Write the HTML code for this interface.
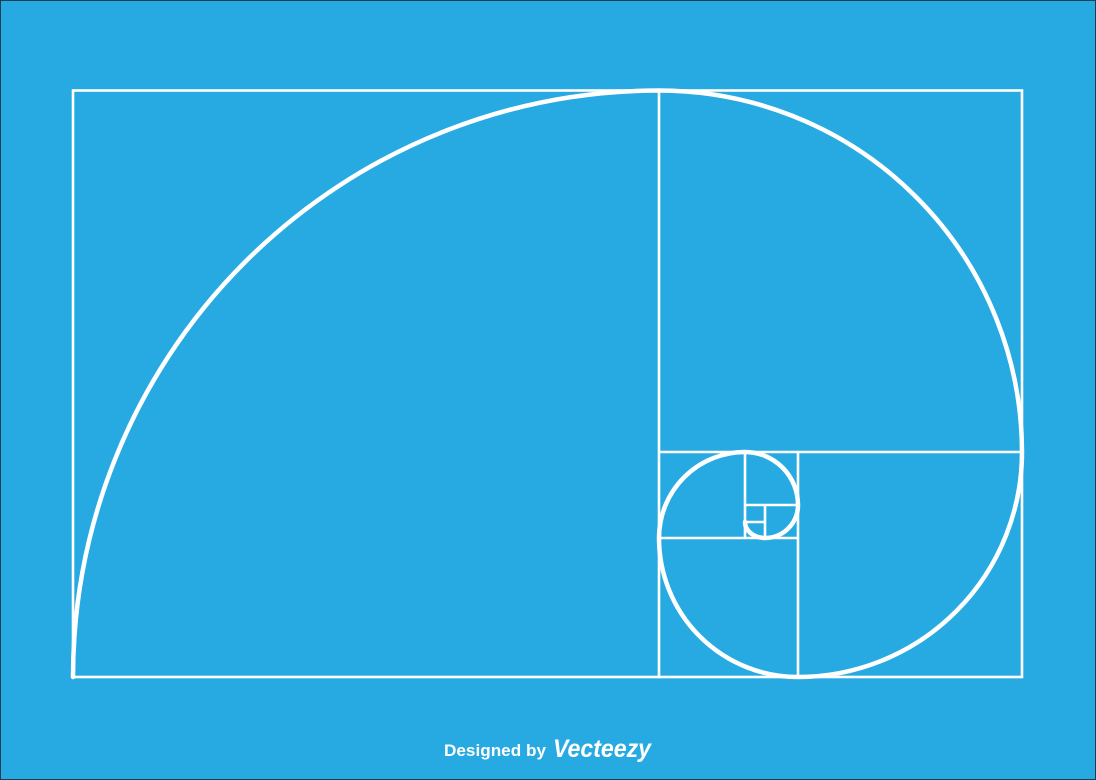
<!DOCTYPE html>
<html><head><meta charset="utf-8"><style>
html,body{margin:0;padding:0;width:1096px;height:780px;overflow:hidden;background:#27aae2}
svg{display:block}
</style></head><body>
<svg width="1096" height="780" viewBox="0 0 1096 780">
<rect x="0.5" y="0.5" width="1095" height="779" fill="#27aae2" stroke="#1b3d52" stroke-width="1"/>
<g fill="none" stroke="#fff" stroke-width="2.6">
<rect x="73" y="90.5" width="949" height="586.5"/>
<line x1="659" y1="90" x2="659" y2="677"/>
<line x1="659" y1="452" x2="1022" y2="452"/>
<line x1="798" y1="452" x2="798" y2="677"/>
<line x1="659" y1="538" x2="798" y2="538"/>
<line x1="745" y1="452" x2="745" y2="538"/>
<line x1="745" y1="505" x2="798" y2="505"/>
<line x1="765" y1="505" x2="765" y2="538"/>
<line x1="745" y1="522" x2="765" y2="522"/>
</g>
<path d="M73 677 A586 587 0 0 1 659 90.5 A363 362 0 0 1 1022 452 A224 225 0 0 1 798 677 A139 139 0 0 1 659 538 A86 86 0 0 1 745 452 A53 53 0 0 1 798 505 A33 33 0 0 1 765 538 A20 16 0 0 1 745 522"
 fill="none" stroke="#fff" stroke-width="4.5" stroke-linecap="round"/>
<text x="444" y="756" textLength="102" lengthAdjust="spacingAndGlyphs" font-family="Liberation Sans, sans-serif" font-weight="bold" font-size="17" fill="#fff">Designed by</text>
<text x="553" y="757" textLength="98" lengthAdjust="spacingAndGlyphs" font-family="Liberation Sans, sans-serif" font-weight="bold" font-style="italic" font-size="25" fill="#fff">Vecteezy</text>
</svg>
</body></html>
